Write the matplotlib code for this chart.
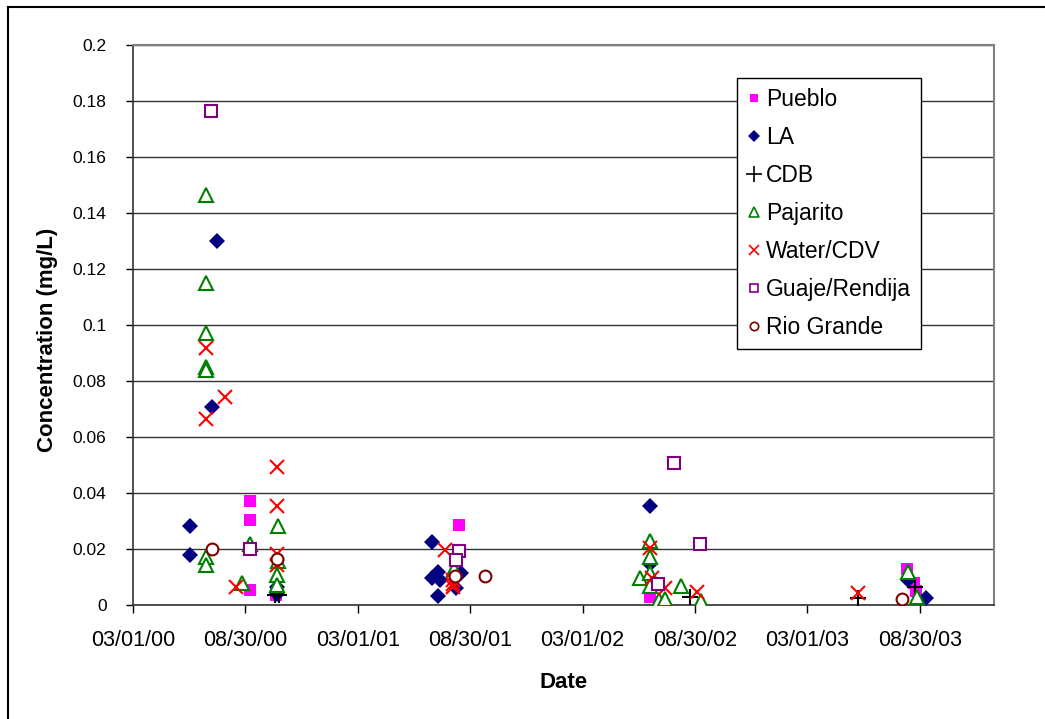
import numpy as np
import matplotlib
matplotlib.use("Agg")
import matplotlib.pyplot as plt
import matplotlib.dates as mdates
from matplotlib.lines import Line2D
from matplotlib.ticker import FuncFormatter
from datetime import datetime

plt.rcParams['font.family'] = ['Liberation Sans', 'DejaVu Sans']

# ---------------- data ----------------
pueblo_dates = ["2000-09-07", "2000-09-07", "2000-09-07", "2000-10-19", "2001-08-12",
                "2002-06-18", "2003-08-10", "2003-08-21", "2003-08-25"]
pueblo_vals = [0.037, 0.0305, 0.0055, 0.0035, 0.0287, 0.003, 0.013, 0.008, 0.005]

la_dates = ["2000-06-01", "2000-06-01", "2000-07-07", "2000-07-15", "2000-10-20", "2000-10-21",
            "2001-06-30", "2001-06-30", "2001-07-10", "2001-07-10", "2001-07-12", "2001-08-07",
            "2001-08-15", "2002-06-18", "2002-06-18", "2003-08-12", "2003-09-09"]
la_vals = [0.0283, 0.0177, 0.0706, 0.130, 0.0065, 0.004,
           0.0225, 0.0095, 0.0118, 0.0033, 0.0088, 0.006,
           0.0115, 0.0353, 0.0148, 0.009, 0.0025]

cdb_dates = ["2000-10-18", "2000-10-24", "2002-08-22", "2003-05-22", "2003-08-23"]
cdb_vals = [0.0035, 0.0035, 0.003, 0.0024, 0.0066]

pajarito_dates = ["2000-06-27", "2000-06-27", "2000-06-27", "2000-06-27", "2000-06-27",
                  "2000-06-27", "2000-06-27", "2000-08-25", "2000-09-07", "2000-10-22",
                  "2000-10-22", "2000-10-20", "2000-10-20", "2001-08-05", "2002-06-03",
                  "2002-06-18", "2002-06-18", "2002-06-18", "2002-06-18", "2002-07-03",
                  "2002-07-12", "2002-08-08", "2002-09-10", "2003-08-12", "2003-08-26"]
pajarito_vals = [0.1464, 0.115, 0.0972, 0.0851, 0.0839,
                 0.0172, 0.0144, 0.0078, 0.0217, 0.0281,
                 0.0157, 0.0108, 0.0072, 0.013, 0.0096,
                 0.023, 0.0173, 0.0116, 0.0067, 0.0018,
                 0.002, 0.0068, 0.0016, 0.0119, 0.003]

water_dates = ["2000-06-27", "2000-06-27", "2000-07-28", "2000-08-15", "2000-10-20",
               "2000-10-20", "2000-10-20", "2000-10-20", "2001-07-20", "2001-08-02",
               "2001-08-02", "2001-08-03", "2002-06-18", "2002-06-21", "2002-07-12",
               "2002-09-03", "2003-05-22"]
water_vals = [0.0918, 0.0664, 0.0743, 0.0065, 0.0493,
              0.0353, 0.0181, 0.0144, 0.0196, 0.009,
              0.0076, 0.0063, 0.0203, 0.0096, 0.006,
              0.0048, 0.0042]

guaje_dates = ["2000-07-05", "2000-09-07", "2001-08-12", "2001-08-07", "2002-07-01",
               "2002-07-28", "2002-09-08"]
guaje_vals = [0.1764, 0.0201, 0.0193, 0.016, 0.0075, 0.0507, 0.0218]

rio_dates = ["2000-07-07", "2000-10-20", "2001-08-06", "2001-09-23", "2003-08-02"]
rio_vals = [0.0201, 0.0165, 0.0103, 0.0103, 0.002]

series_names = ["Pueblo", "LA", "CDB", "Pajarito", "Water/CDV", "Guaje/Rendija", "Rio Grande"]

x_tick_labels = ["03/01/00", "08/30/00", "03/01/01", "08/30/01",
                 "03/01/02", "08/30/02", "03/01/03", "08/30/03"]
y_ticks = [0, 0.02, 0.04, 0.06, 0.08, 0.1, 0.12, 0.14, 0.16, 0.18, 0.2]

# ---------------- figure ----------------
W, H = 1045, 719
fig = plt.figure(figsize=(W / 100, H / 100), dpi=100)
L, R, T, B = 133, 994, 45, 605
ax = fig.add_axes([L / W, 1 - B / H, (R - L) / W, (B - T) / H])


def to_num(ds):
    return mdates.date2num([datetime.strptime(d, "%Y-%m-%d") for d in ds])


styles = [
    dict(marker='s', ms=8, mfc='#FF00FF', mec='#FF00FF', mew=0),
    dict(marker='D', ms=8.5, mfc='#000080', mec='#000080', mew=0),
    dict(marker='+', ms=12, mfc='none', mec='black', mew=1.5),
    dict(marker='^', ms=10, mfc='white', mec='#008000', mew=1.5),
    dict(marker='x', ms=10, mfc='none', mec='#FF0000', mew=1.5),
    dict(marker='s', ms=9, mfc='white', mec='#800080', mew=1.5),
    dict(marker='o', ms=8.5, mfc='white', mec='#800000', mew=1.5),
]
data = [(pueblo_dates, pueblo_vals), (la_dates, la_vals), (cdb_dates, cdb_vals),
        (pajarito_dates, pajarito_vals), (water_dates, water_vals),
        (guaje_dates, guaje_vals), (rio_dates, rio_vals)]

for i, ((ds, vs), st, name) in enumerate(zip(data, styles, series_names)):
    ax.plot(to_num(ds), vs, linestyle='none', label=name, zorder=3 + i * 0.1, **st)

start = mdates.date2num(datetime(2000, 3, 1))
ax.set_xlim(start, start + 1398)
ax.set_xticks([start + 182.5 * k for k in range(len(x_tick_labels))])
ax.set_xticklabels(x_tick_labels, fontsize=15.5)
ax.set_ylim(0, 0.2)
ax.set_yticks(y_ticks)
ax.yaxis.set_major_formatter(FuncFormatter(lambda v, p: ('%g' % round(v, 4))))
ax.tick_params(axis='y', labelsize=12.5, direction='out', length=5, width=1, pad=14, colors='black')
ax.tick_params(axis='x', direction='out', length=6, width=1, pad=12, colors='black')

ax.grid(axis='y', color='#333333', linewidth=1)
ax.set_axisbelow(True)
for s in ['top', 'right']:
    ax.spines[s].set_color('#808080')
    ax.spines[s].set_linewidth(1.5)
for s in ['left', 'bottom']:
    ax.spines[s].set_color('#333333')
    ax.spines[s].set_linewidth(1.2)

ax.set_ylabel("Concentration (mg/L)", fontsize=16, fontweight='bold')
ax.set_xlabel("Date", fontsize=16, fontweight='bold')
ax.yaxis.set_label_coords((58 - L) / (R - L), (B - 340) / (B - T))
ax.xaxis.set_label_coords(0.5, (B - 672) / (B - T))

# legend with smaller markers
handles = []
leg_styles = [
    dict(marker='s', ms=6, mfc='#FF00FF', mec='#FF00FF', mew=0),
    dict(marker='D', ms=6, mfc='#000080', mec='#000080', mew=0),
    dict(marker='+', ms=11, mfc='none', mec='black', mew=1.2),
    dict(marker='^', ms=7, mfc='white', mec='#008000', mew=1.2),
    dict(marker='x', ms=7, mfc='none', mec='#FF0000', mew=1.2),
    dict(marker='s', ms=6, mfc='white', mec='#800080', mew=1.2),
    dict(marker='o', ms=6, mfc='white', mec='#800000', mew=1.2),
]
for st, name in zip(leg_styles, series_names):
    handles.append(Line2D([], [], linestyle='none', label=name, **st))
leg = fig.legend(handles=handles, loc='upper left',
                 bbox_to_anchor=(737 / W, 1 - 78 / H), fontsize=16.5,
                 frameon=True, fancybox=False, framealpha=1, edgecolor='black',
                 labelspacing=0.66, handlelength=0.6, handletextpad=0.25,
                 borderpad=0.42, borderaxespad=0)
leg.get_frame().set_linewidth(1)

# outer chart border (left and top visible)
fig.add_artist(Line2D([7.5 / W, 7.5 / W], [0, 1 - 6.5 / H], color='black', lw=1.5,
                      transform=fig.transFigure))
fig.add_artist(Line2D([7.5 / W, 1], [1 - 6.5 / H, 1 - 6.5 / H], color='black', lw=1.5,
                      transform=fig.transFigure))

fig.savefig("out.png", dpi=100)
